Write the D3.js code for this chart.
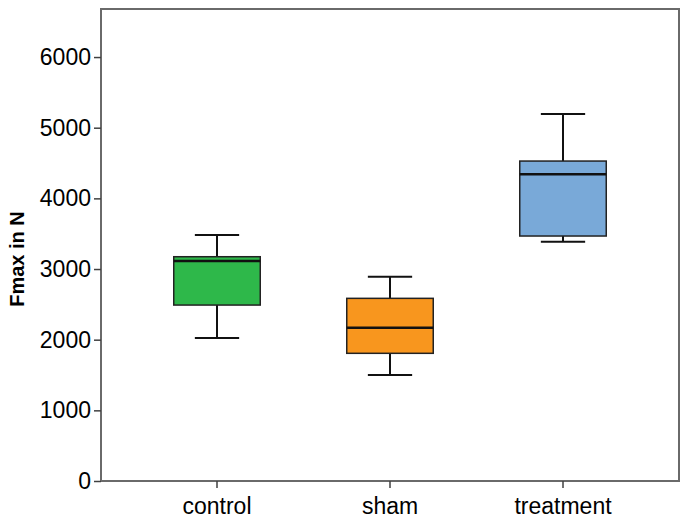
<!DOCTYPE html>
<html>
<head>
<meta charset="utf-8">
<script src="https://cdn.jsdelivr.net/npm/d3@7"></script>
<style>
  html, body { margin: 0; padding: 0; background: #fff; }
  svg { display: block; }
</style>
</head>
<body>
<svg id="chart" width="685" height="522"></svg>
<script>
const categories = ["control", "sham", "treatment"];
const whiskerLow  = [2024, 1500, 3386];
const q1          = [2490, 1807, 3467];
const median      = [3113, 2169, 4340];
const q3          = [3174, 2585, 4528];
const whiskerHigh = [3481, 2891, 5193];
const colors      = ["#2eb84a", "#f8961e", "#79a9d8"];
const yTicks      = [0, 1000, 2000, 3000, 4000, 5000, 6000];
const yLabel      = "Fmax in N";

const svg = d3.select("#chart");
const plotL = 101, plotR = 679, plotT = 9, plotB = 481;
const FONT = "'Liberation Sans', Arial, sans-serif";

const y = d3.scaleLinear().domain([0, 6680]).range([plotB, plotT]);
const x = d3.scaleBand().domain(categories).range([130.5, 649.5]).paddingInner(0).paddingOuter(0);
const boxW = x.bandwidth() * 0.5;
const capW = x.bandwidth() * 0.128;

const data = categories.map((c, i) => ({
  c, lo: whiskerLow[i], q1: q1[i], med: median[i], q3: q3[i], hi: whiskerHigh[i], color: colors[i]
}));

// frame
svg.append("rect")
  .attr("x", plotL).attr("y", plotT)
  .attr("width", plotR - plotL).attr("height", plotB - plotT)
  .attr("fill", "none").attr("stroke", "#6a6a6a").attr("stroke-width", 2);

// y axis
const yAxis = d3.axisLeft(y).tickValues(yTicks).tickSize(7).tickPadding(3).tickFormat(d3.format("d"));
const gy = svg.append("g").attr("transform", `translate(${plotL},0)`).call(yAxis);
gy.select(".domain").remove();
gy.selectAll(".tick line").attr("stroke", "#404040").attr("stroke-width", 1.5);
gy.selectAll(".tick text").attr("font-family", FONT)
  .attr("font-size", 23).attr("fill", "#000");

// x axis
const xAxis = d3.axisBottom(x).tickSize(7).tickPadding(10);
const gx = svg.append("g").attr("transform", `translate(0,${plotB})`).call(xAxis);
gx.select(".domain").remove();
gx.selectAll(".tick line").attr("stroke", "#404040").attr("stroke-width", 1.5);
gx.selectAll(".tick text").attr("font-family", FONT)
  .attr("font-size", 23).attr("fill", "#000");

// y label
svg.append("text")
  .attr("transform", `translate(24,${(plotT + plotB) / 2 + 14}) rotate(-90)`)
  .attr("text-anchor", "middle")
  .attr("font-family", FONT)
  .attr("font-weight", "bold").attr("font-size", 20).attr("fill", "#000")
  .text(yLabel);

// boxes
const g = svg.selectAll("g.box").data(data).join("g").attr("class", "box")
  .attr("transform", d => `translate(${x(d.c) + x.bandwidth() / 2},0)`);

g.append("line").attr("x1", 0).attr("x2", 0)
  .attr("y1", d => y(d.hi)).attr("y2", d => y(d.q3))
  .attr("stroke", "#111").attr("stroke-width", 2);
g.append("line").attr("x1", 0).attr("x2", 0)
  .attr("y1", d => y(d.q1)).attr("y2", d => y(d.lo))
  .attr("stroke", "#111").attr("stroke-width", 2);
g.append("line").attr("x1", -capW).attr("x2", capW)
  .attr("y1", d => y(d.hi)).attr("y2", d => y(d.hi))
  .attr("stroke", "#111").attr("stroke-width", 2);
g.append("line").attr("x1", -capW).attr("x2", capW)
  .attr("y1", d => y(d.lo)).attr("y2", d => y(d.lo))
  .attr("stroke", "#111").attr("stroke-width", 2);
g.append("rect")
  .attr("x", -boxW / 2).attr("width", boxW)
  .attr("y", d => y(d.q3)).attr("height", d => y(d.q1) - y(d.q3))
  .attr("fill", d => d.color).attr("stroke", "#222").attr("stroke-width", 1.5);
g.append("line").attr("x1", -boxW / 2).attr("x2", boxW / 2)
  .attr("y1", d => y(d.med)).attr("y2", d => y(d.med))
  .attr("stroke", "#111").attr("stroke-width", 2.5);
</script>
</body>
</html>
